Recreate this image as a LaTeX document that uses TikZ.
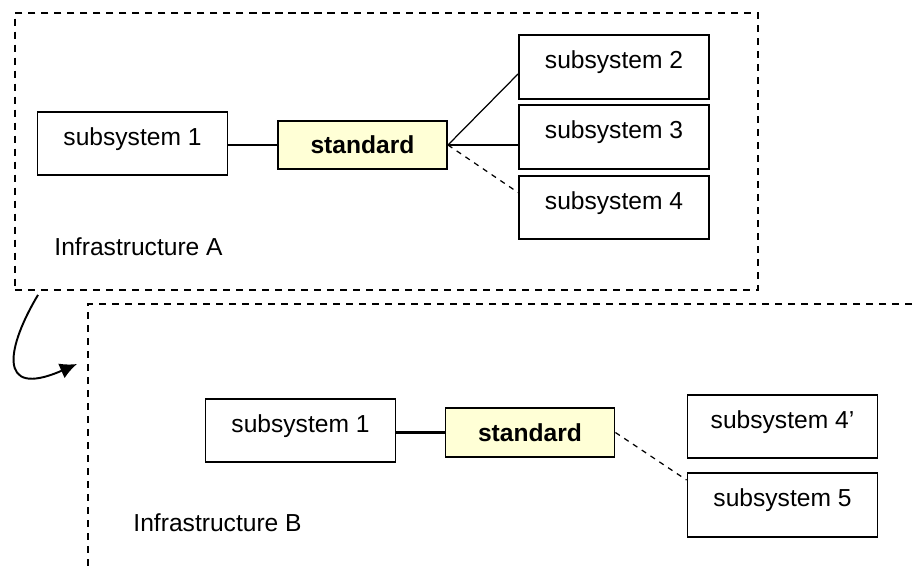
\documentclass[tikz,border=0pt]{standalone}
\usepackage{fontspec}
\setmainfont{Liberation Sans}
\usetikzlibrary{arrows.meta}
\definecolor{stdyellow}{RGB}{255,255,214}

\begin{document}
\begin{tikzpicture}[
  >={Latex[length=3.4mm, width=3.2mm]}, line width=0.7pt,
  font=\fontsize{14}{17}\selectfont,
  subbox/.style={draw, line width=1.1pt, minimum width=3.8cm,
                 minimum height=1.27cm, text depth=0.28cm},
  stdbox/.style={draw, line width=1.1pt, fill=stdyellow,
                 minimum width=3.38cm, minimum height=0.97cm,
                 font=\fontsize{14}{17}\selectfont\bfseries},
  infra/.style={draw, dash pattern=on 4pt off 3.4pt, line width=1.1pt,
                anchor=north west, inner sep=0pt}]

  \useasboundingbox (0,0) rectangle (18.3,-11.32);

  % infrastructure A
  \node[infra, minimum width=14.86cm, minimum height=5.54cm] (infraA) at (0.28,-0.24) {};
  \node[subbox] (subA1) at (2.65,-2.87) {subsystem 1};
  \node[stdbox] (stdA) at (7.25,-2.90) {standard};
  \node[subbox] (subA2) at (12.28,-1.34) {subsystem 2};
  \node[subbox] (subA3) at (12.28,-2.74) {subsystem 3};
  \node[subbox] (subA4) at (12.28,-4.15) {subsystem 4};
  \node[anchor=west] (labA) at (0.96,-4.94) {Infrastructure A};

  \draw[line width=1.4pt] (subA1.east |- stdA) -- (stdA);
  \draw (stdA.east) -- ([yshift=-0.14cm]subA2.west);
  \draw (stdA.east) -- (stdA.east -| subA3.west);
  \draw[dashed] (stdA.east) -- ([yshift=0.3cm]subA4.west);

  % infrastructure B
  \node[infra, minimum width=16.8cm, minimum height=5.25cm] (infraB) at (1.74,-6.06) {};
  \node[subbox] (subB1) at (6.01,-8.61) {subsystem 1};
  \node[stdbox] (stdB) at (10.60,-8.65) {standard};
  \node[subbox] (subB4) at (15.65,-8.53) {subsystem 4’};
  \node[subbox] (subB5) at (15.65,-10.10) {subsystem 5};
  \node[anchor=west] (labB) at (2.54,-10.46) {Infrastructure B};

  \draw[line width=1.4pt] (subB1.east |- stdB) -- (stdB);
  \draw[dashed] (stdB.east) -- ([yshift=0.5cm]subB5.west);

  \draw[->, line width=1.1pt] ([xshift=0.48cm,yshift=-0.08cm]infraA.south west)
    .. controls (0.16,-6.9) and (-0.1,-8.0) .. ([xshift=-0.2cm,yshift=-1.22cm]infraB.north west);
\end{tikzpicture}
\end{document}
